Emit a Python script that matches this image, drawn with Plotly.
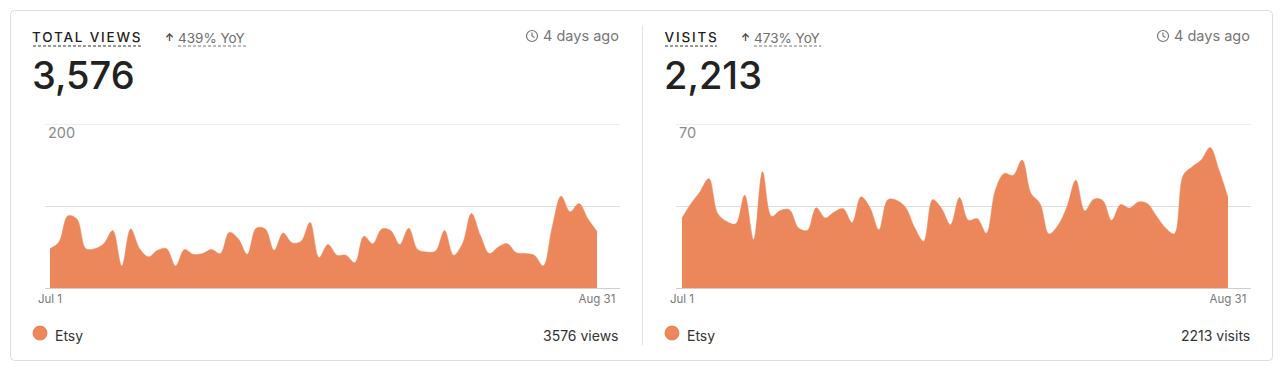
import plotly.graph_objects as go
import pandas as pd

W, H = 1280, 372
dates = pd.date_range("2024-07-01", "2024-08-31").strftime("%Y-%m-%d").tolist()
tick_dates = ["2024-07-01", "2024-08-31"]
tick_labels = ["Jul 1", "Aug 31"]

views = [48, 56, 88, 84, 48, 48, 54, 70, 27, 72, 48, 38, 46, 48, 27, 47, 41, 42, 47, 42, 68,
         60, 41, 73, 72, 46, 67, 55, 57, 80, 37, 53, 40, 40, 31, 63, 54, 72, 70, 53, 73, 47,
         44, 45, 70, 40, 54, 91, 64, 42, 50, 54, 43, 42, 40, 27, 74, 112, 93, 103, 84, 69]
visits = [29.9, 36, 41, 46.7, 31.7, 28.4, 27.4, 39.6, 20.6, 49.6, 30.6, 33.1, 33.4, 25.7, 24.6,
          34.3, 29.9, 32.4, 33.9, 27.9, 38.9, 34.3, 24.9, 37.7, 37.4, 34.3, 25.7, 20, 37.7, 33.9,
          27, 38.6, 28.9, 29.6, 23.4, 41.7, 48.9, 48.1, 54.6, 40.3, 36, 23.1, 26.7, 34.6, 46, 32.9,
          37.9, 37.4, 28.9, 35.6, 34.1, 36.7, 36, 30.7, 25.7, 23.1, 48.1, 51.7, 54.6, 60, 50.3, 38.6]

ORANGE = "#EC875C"
GRID = "#DEDEDE"
FONT = "Inter"


def px(x):
    return x / W


def py(y):
    return 1 - y / H


fig = go.Figure()
shapes = []
annotations = []


def text(x, y, s, size, color, anchor="left", weight=None):
    annotations.append(dict(
        x=px(x), y=py(y), xref="paper", yref="paper", text=s, showarrow=False,
        xanchor=anchor, yanchor="middle",
        font=dict(family=FONT, size=size, color=color, weight=weight), borderpad=0, borderwidth=0))


def hline(x0, x1, y, color, dash):
    shapes.append(dict(type="line", xref="paper", yref="paper", x0=px(x0), x1=px(x1), y0=py(y), y1=py(y),
                       line=dict(color=color, width=1, dash=dash), layer="above"))


def clock(cx, cy, color):
    r = 5.5
    shapes.append(dict(type="circle", xref="paper", yref="paper", x0=px(cx - r), x1=px(cx + r),
                       y0=py(cy + r), y1=py(cy - r), line=dict(color=color, width=1.2)))
    shapes.append(dict(type="path", xref="paper", yref="paper",
                       path=f"M {px(cx)} {py(cy - 3.5)} L {px(cx)} {py(cy)} L {px(cx + 2.5)} {py(cy + 1.5)}",
                       line=dict(color=color, width=1.2)))


def panel(n, values, top, top_label, x0, x_data0, x_data1, x1, title, title_end, delta, delta_x0, delta_x1,
          big, count_text):
    suffix = "" if n == 1 else str(n)
    step = (x_data1 - x_data0) / (len(dates) - 1)
    t0 = pd.Timestamp(dates[0])
    lo = t0 + pd.Timedelta(days=(x0 - x_data0) / step)
    hi = t0 + pd.Timedelta(days=(x1 - x_data0) / step)
    fig.add_trace(go.Scatter(x=dates, y=values, mode="lines", fill="tozeroy", fillcolor=ORANGE,
                             line=dict(color=ORANGE, width=0.5, shape="spline", smoothing=1.0),
                             name="Etsy", showlegend=False, xaxis="x" + suffix, yaxis="y" + suffix))
    fig.update_layout({
        "xaxis" + suffix: dict(domain=[px(x0), px(x1)], range=[lo, hi], type="date", tickvals=tick_dates,
                               ticktext=tick_labels, ticks="", showgrid=False, zeroline=False, showline=False,
                               tickfont=dict(family=FONT, size=11.5, color="#777777"), anchor="y" + suffix,
                               ticklabelstandoff=2, automargin=False),
        "yaxis" + suffix: dict(domain=[py(288), py(124)], range=[0, top], tickvals=[0, top / 2],
                               showticklabels=False,
                               showgrid=True, gridcolor=GRID, gridwidth=1, zeroline=True, zerolinecolor="#CFCFCF",
                               zerolinewidth=1, showline=False, ticks="", anchor="x" + suffix, automargin=False),
    })
    shapes.append(dict(type="line", xref="paper", yref="y" + suffix, x0=px(x0), x1=px(x1), y0=top, y1=top,
                       line=dict(color=GRID, width=1), layer="below"))
    annotations.append(dict(x=px(x0 + 2), xref="paper", y=top, yref="y" + suffix, yanchor="top", xanchor="left",
                            yshift=1, text=top_label, showarrow=False, borderpad=0,
                            font=dict(family=FONT, size=14.5, color="#8A8A8A")))
    left = x_data0 - 17
    text((left + title_end) / 2, 37, title, 13.5, "#222222", anchor="center", weight=500)
    hline(left, title_end, 46, "#333333", "3px,2px")
    text(delta_x0 - 8.5, 37, "↑", 10, "#444444", anchor="center", weight=700)
    text(delta_x0, 38, delta, 13.5, "#6E6E6E")
    hline(delta_x0, delta_x1, 46, "#777777", "3px,2px")
    text(left - 1, 75, big, 38, "#222222", weight=500)
    text(x1 - 1, 36, "4 days ago", 14.5, "#777777", anchor="right")
    clock(x1 - 88, 36, "#777777")
    r = 7.5
    shapes.append(dict(type="circle", xref="paper", yref="paper", x0=px(left + 7 - r), x1=px(left + 7 + r),
                       y0=py(333 + r), y1=py(333 - r), fillcolor=ORANGE, line=dict(width=0)))
    text(left + 22, 335, "Etsy", 14, "#333333")
    text(x1 - 1, 335, count_text, 14, "#333333", anchor="right")


panel(1, views, 200, "200", 45, 50, 597, 620, "TOTAL VIEWS", 141, "439% YoY", 178, 246, "3,576", "3576 views")
panel(2, visits, 70, "70", 676, 682, 1228, 1251, "VISITS", 717, "473% YoY", 754, 821, "2,213", "2213 visits")

# card outline and divider
x0, y0, x1, y1, rad = px(10.5), py(10.5), px(1272.5), py(360.5), 4
rx, ry = rad / W, rad / H
shapes.append(dict(type="path", xref="paper", yref="paper", layer="below",
                   path=(f"M {x0 + rx} {y0} L {x1 - rx} {y0} Q {x1} {y0} {x1} {y0 - ry} L {x1} {y1 + ry} "
                         f"Q {x1} {y1} {x1 - rx} {y1} L {x0 + rx} {y1} Q {x0} {y1} {x0} {y1 + ry} "
                         f"L {x0} {y0 - ry} Q {x0} {y0} {x0 + rx} {y0} Z"),
                   line=dict(color="#DDDDDD", width=1)))
shapes.append(dict(type="line", xref="paper", yref="paper", x0=px(642.5), x1=px(642.5), y0=py(25), y1=py(345),
                   line=dict(color="#E2E2E2", width=1), layer="below"))

fig.update_layout(width=W, height=H, margin=dict(l=0, r=0, t=0, b=0), paper_bgcolor="white",
                  plot_bgcolor="rgba(0,0,0,0)", shapes=shapes, annotations=annotations, showlegend=False)
post = """document.body.style.margin='0';
var s=document.createElement('style');
s.textContent='.annotation-text[data-unformatted="TOTAL VIEWS"],.annotation-text[data-unformatted="VISITS"]{letter-spacing:1.8px}';
document.head.appendChild(s);"""
fig.write_html("out.html", config={"displayModeBar": False}, post_script=post)
